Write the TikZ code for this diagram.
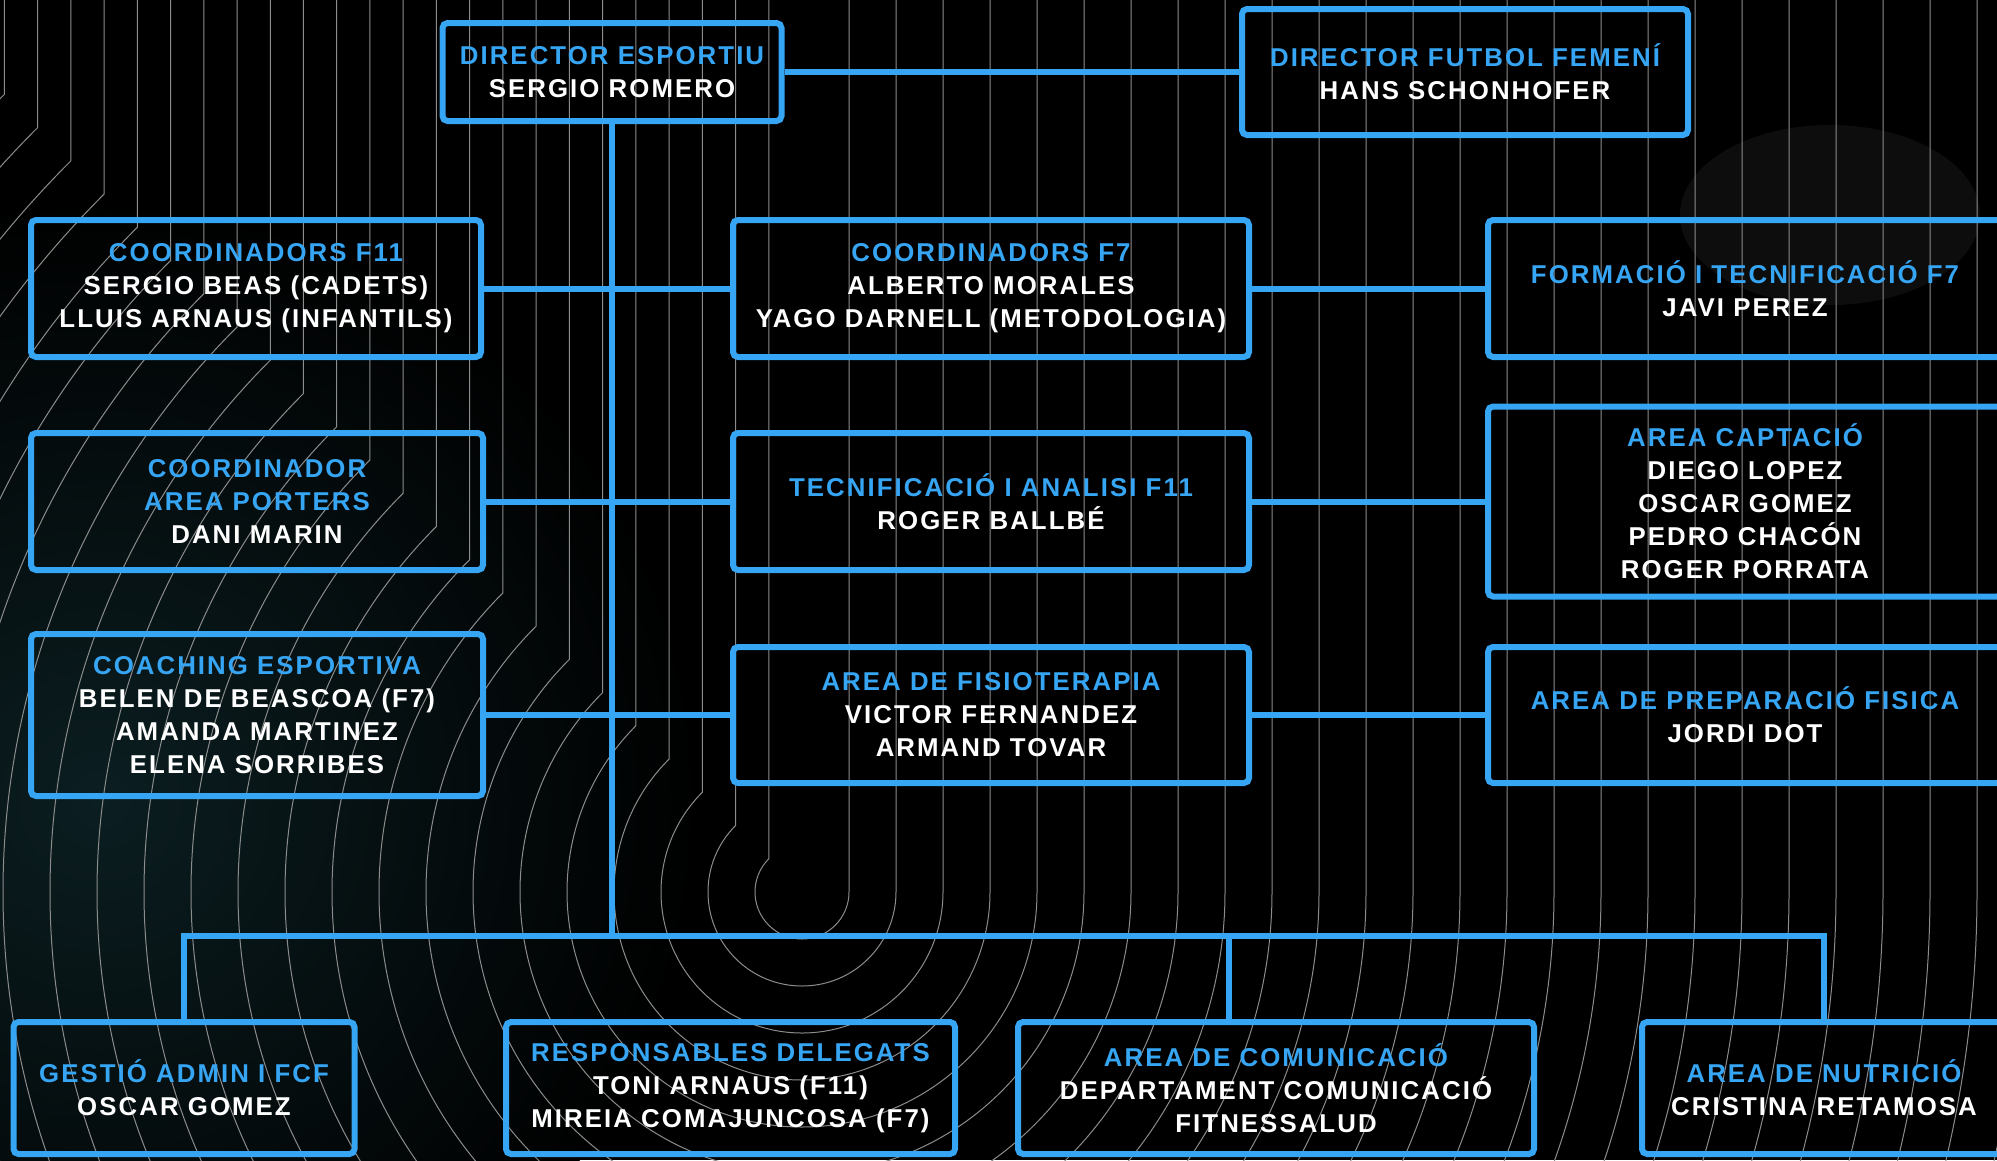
\documentclass[tikz,border=0pt]{standalone}
\usepackage{fontspec}
\newfontfamily\orgfont{Liberation Sans}[LetterSpace=8]
\definecolor{tblue}{RGB}{54,165,243}
\definecolor{glow}{RGB}{11,30,33}
\definecolor{topo}{RGB}{140,140,140}
\tikzset{
  orgbox/.style={draw=tblue, line width=6pt, rounded corners=5pt, align=center,
    text=white, inner sep=0pt,
    font=\orgfont\bfseries\fontsize{25.8}{33}\selectfont},
  conn/.style={draw=tblue, line width=6pt},
  topoline/.style={draw=topo, line width=1pt}
}
\newcommand{\ttl}[1]{\textcolor{tblue}{#1}}
\begin{document}
\begin{tikzpicture}[x=1pt,y=-1pt]
\useasboundingbox (0,0) rectangle (1997,1160);
\clip (0,0) rectangle (1997,1160);
\fill[black] (0,0) rectangle (1997,1160);
% background glow
\shade[inner color=glow, outer color=black] (100,800) circle (600);
\fill[black!95!white] (1830,215) ellipse (150 and 90);
% topographic contour lines
\foreach \r in {47,94,...,1700}{
  \draw[topoline] ({802-0.7071*\r},0) -- ({802-0.7071*\r},{892-0.7071*\r})
     arc[start angle=225, end angle=0, radius=\r] -- ({802+\r},0);
}
% boxes
\node[orgbox, minimum width=339, minimum height=98] (dirE) at (612,72)
  {\ttl{DIRECTOR ESPORTIU}\\SERGIO ROMERO};
\node[orgbox, minimum width=446, minimum height=126] (dirF) at (1465,72)
  {\ttl{DIRECTOR FUTBOL FEMENÍ}\\HANS SCHONHOFER};
\node[orgbox, minimum width=450, minimum height=137] (cF11) at (256,288.5)
  {\ttl{COORDINADORS F11}\\SERGIO BEAS (CADETS)\\LLUIS ARNAUS (INFANTILS)};
\node[orgbox, minimum width=516, minimum height=137] (cF7) at (991,288.5)
  {\ttl{COORDINADORS F7}\\ALBERTO MORALES\\YAGO DARNELL (METODOLOGIA)};
\node[orgbox, minimum width=514, minimum height=137] (formF7) at (1745,288.5)
  {\ttl{FORMACIÓ I TECNIFICACIÓ F7}\\JAVI PEREZ};
\node[orgbox, minimum width=452, minimum height=137] (porters) at (257,501.5)
  {\ttl{COORDINADOR}\\\ttl{AREA PORTERS}\\DANI MARIN};
\node[orgbox, minimum width=516, minimum height=137] (tecF11) at (991,501.5)
  {\ttl{TECNIFICACIÓ I ANALISI F11}\\ROGER BALLBÉ};
\node[orgbox, minimum width=514, minimum height=190] (captacio) at (1745,501.5)
  {\ttl{AREA CAPTACIÓ}\\DIEGO LOPEZ\\OSCAR GOMEZ\\PEDRO CHACÓN\\ROGER PORRATA};
\node[orgbox, minimum width=452, minimum height=162] (coaching) at (257,715)
  {\ttl{COACHING ESPORTIVA}\\BELEN DE BEASCOA (F7)\\AMANDA MARTINEZ\\ELENA SORRIBES};
\node[orgbox, minimum width=516, minimum height=136] (fisio) at (991,715)
  {\ttl{AREA DE FISIOTERAPIA}\\VICTOR FERNANDEZ\\ARMAND TOVAR};
\node[orgbox, minimum width=514, minimum height=136] (prep) at (1745,715)
  {\ttl{AREA DE PREPARACIÓ FISICA}\\JORDI DOT};
\node[orgbox, minimum width=341, minimum height=132] (gestio) at (184,1088)
  {\ttl{GESTIÓ ADMIN I FCF}\\OSCAR GOMEZ};
\node[orgbox, minimum width=449, minimum height=132] (resp) at (730.5,1088)
  {\ttl{RESPONSABLES DELEGATS}\\TONI ARNAUS (F11)\\MIREIA COMAJUNCOSA (F7)};
\node[orgbox, minimum width=516, minimum height=132] (comunic) at (1276,1088)
  {\ttl{AREA DE COMUNICACIÓ}\\DEPARTAMENT COMUNICACIÓ\\FITNESSALUD};
\node[orgbox, minimum width=364, minimum height=132] (nutri) at (1824,1088)
  {\ttl{AREA DE NUTRICIÓ}\\CRISTINA RETAMOSA};
% connector points
\coordinate (busM) at (612,936);
\coordinate (cdrop) at (1229,936);
% connectors
\draw[conn] (dirE.east) -- (dirF.west);
\draw[conn] (dirE.south) -- (busM);
\draw[conn] (cF11.east) -- (cF7.west);
\draw[conn] (cF7.east) -- (formF7.west);
\draw[conn] (porters.east) -- (tecF11.west);
\draw[conn] (tecF11.east) -- (captacio.west);
\draw[conn] (coaching.east) -- (fisio.west);
\draw[conn] (fisio.east) -- (prep.west);
\draw[conn] (gestio.north) |- (busM) -| (nutri.north);
\draw[conn] (cdrop) -- (cdrop |- comunic.north);
\end{tikzpicture}
\end{document}
